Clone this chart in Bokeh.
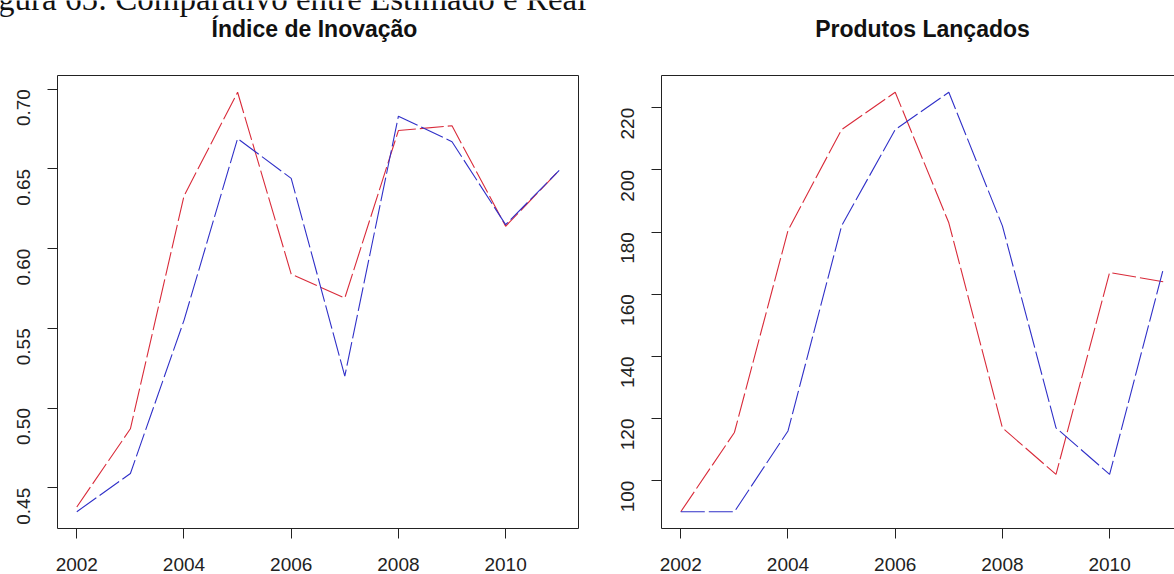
import math
from bokeh.plotting import figure
from bokeh.layouts import row, column
from bokeh.models import FixedTicker, Range1d, LinearAxis
from bokeh.core.properties import value
from bokeh.embed import file_html
from bokeh.resources import INLINE

# ---------------- data ----------------
years = [2002, 2003, 2004, 2005, 2006, 2007, 2008, 2009, 2010, 2011]
indice_estimado = [0.438, 0.487, 0.633, 0.698, 0.584, 0.569, 0.674, 0.677, 0.614, 0.649]
indice_real = [0.435, 0.459, 0.555, 0.669, 0.644, 0.520, 0.683, 0.667, 0.615, 0.649]
produtos_estimado = [90, 115.5, 180.5, 213, 225, 183, 117, 102, 167, 164]
produtos_real = [90, 90, 116, 182, 213, 225, 182, 117, 102, 168]

x_ticks = [2002, 2004, 2006, 2008, 2010]
indice_ticks = [0.45, 0.50, 0.55, 0.60, 0.65, 0.70]
indice_tick_labels = ["0.45", "0.50", "0.55", "0.60", "0.65", "0.70"]
produtos_ticks = [100, 120, 140, 160, 180, 200, 220]

title_left = "Índice de Inovação"
title_right = "Produtos Lançados"
caption = "Figura 65: Comparativo entre Estimado e Real"

# ---------------- style ----------------
RED = "#d92b3a"
BLUE = "#3030c8"
DASH = "24 4"
LABEL_FONT = "Liberation Sans"
AX_COLOR = "#222222"
STRIP_H = 60
TOTAL_W, TOTAL_H = 1174, 574
TEXT_SHIFT = 10  # compensates the strip's internal vertical offset


def padded(lo, hi, frac=0.04):
    d = hi - lo
    return lo - frac * d, hi + frac * d


def style_axes(p, y_ticks, y_overrides=None):
    for ax in (p.xaxis[0], p.yaxis[0]):
        ax.major_tick_out = 10
        ax.major_tick_in = 0
        ax.minor_tick_line_color = None
        ax.major_tick_line_color = AX_COLOR
        ax.major_label_text_font = LABEL_FONT
        ax.major_label_text_font_size = "19px"
        ax.major_label_text_color = AX_COLOR
    p.xaxis[0].major_label_standoff = 19
    p.yaxis[0].major_label_standoff = 24
    p.xaxis[0].ticker = FixedTicker(ticks=x_ticks)
    p.yaxis[0].ticker = FixedTicker(ticks=y_ticks)
    p.yaxis[0].major_label_orientation = math.pi / 2
    if y_overrides:
        p.yaxis[0].major_label_overrides = y_overrides
    p.xgrid.grid_line_color = None
    p.ygrid.grid_line_color = None


# ---------------- top strip: caption + panel titles ----------------
strip = figure(width=TOTAL_W, height=STRIP_H, output_backend="svg", toolbar_location=None,
               title=None,
               x_range=Range1d(0, TOTAL_W), y_range=Range1d(0, STRIP_H),
               x_axis_location=None, y_axis_location=None,
               min_border_left=0, min_border_right=0, min_border_top=0, min_border_bottom=0)
strip.outline_line_color = None
strip.grid.grid_line_color = None
strip.text(x=[-30], y=[STRIP_H - 8 + TEXT_SHIFT], text=[caption],
           text_font=value("Liberation Serif"), text_font_size="33px",
           text_color="#111111", text_baseline="alphabetic", text_align="left")
strip.text(x=[314, 922], y=[STRIP_H - 38 + TEXT_SHIFT] * 2, text=[title_left, title_right],
           text_font=value(LABEL_FONT), text_font_size="23px", text_font_style="bold",
           text_color="#111111", text_baseline="alphabetic", text_align="center")

PH = TOTAL_H - STRIP_H

# ---------------- left panel ----------------
xl0, xl1 = padded(min(years), max(years))
yl0, yl1 = padded(min(indice_estimado + indice_real), max(indice_estimado + indice_real))

p1 = figure(width=600, height=PH, output_backend="svg", toolbar_location=None, title=None,
            x_range=Range1d(xl0, xl1), y_range=Range1d(yl0, yl1),
            min_border_left=57, min_border_right=22, min_border_top=73 - STRIP_H,
            min_border_bottom=46)
p1.outline_line_color = AX_COLOR
p1.outline_line_width = 1
p1.xaxis.axis_line_color = None
p1.yaxis.axis_line_color = None
style_axes(p1, indice_ticks, {t: s for t, s in zip(indice_ticks, indice_tick_labels)})

p1.line(years, indice_estimado, line_color=RED, line_width=1.1, line_dash=DASH)
p1.line(years, indice_real, line_color=BLUE, line_width=1.1, line_dash=DASH)

# ---------------- right panel ----------------
xr0, _ = padded(min(years), max(years))
xr1 = xr0 + (xl1 - xl0) * (1174 - 661) / (578 - 57)
yr0, yr1 = padded(min(produtos_estimado + produtos_real), max(produtos_estimado + produtos_real))

p2 = figure(width=574, height=PH, output_backend="svg", toolbar_location=None, title=None,
            x_range=Range1d(xr0, xr1), y_range=Range1d(yr0, yr1),
            min_border_left=61, min_border_right=0, min_border_top=75 - STRIP_H,
            min_border_bottom=46)
p2.outline_line_color = None
p2.xaxis.axis_line_color = AX_COLOR
p2.yaxis.axis_line_color = AX_COLOR
style_axes(p2, produtos_ticks)

top_axis = LinearAxis(ticker=FixedTicker(ticks=[]), axis_line_color=AX_COLOR,
                      major_tick_line_color=None, minor_tick_line_color=None,
                      major_label_text_font_size="0px")
p2.add_layout(top_axis, "above")

p2.line(years, produtos_estimado, line_color=RED, line_width=1.1, line_dash=DASH)
p2.line(years, produtos_real, line_color=BLUE, line_width=1.1, line_dash=DASH)

layout = column(strip, row(p1, p2))
open("out.html", "w").write(file_html(layout, INLINE))
